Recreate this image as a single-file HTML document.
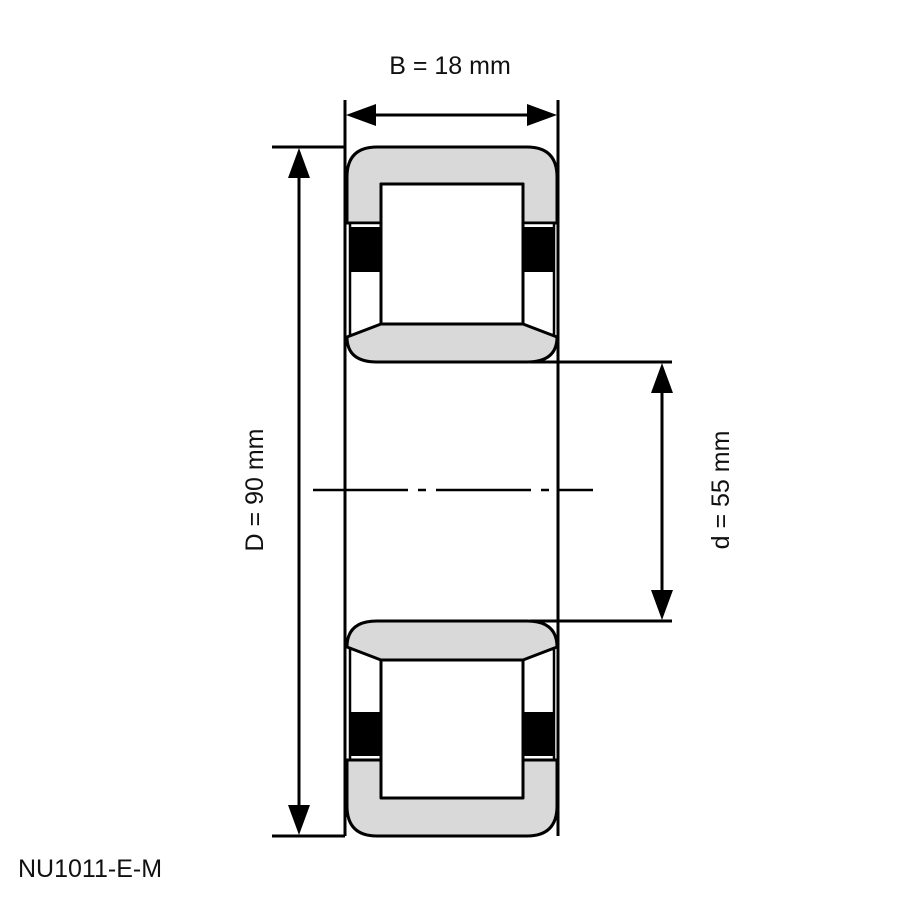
<!DOCTYPE html>
<html><head><meta charset="utf-8"><style>
html,body{margin:0;padding:0;background:#fff;}
svg{display:block;}
text{font-family:"Liberation Sans",sans-serif;fill:#111;}
</style></head><body>
<svg width="900" height="900" viewBox="0 0 900 900" xmlns="http://www.w3.org/2000/svg">
<g stroke="#000" stroke-width="3" fill="none">
  <line x1="345" y1="100" x2="345" y2="836"/>
  <line x1="558" y1="100" x2="558" y2="836"/>
  <line x1="272" y1="147" x2="345" y2="147"/>
  <line x1="272" y1="836" x2="345" y2="836"/>
  <line x1="530" y1="362" x2="672" y2="362"/>
  <line x1="530" y1="621" x2="672" y2="621"/>
  <line x1="360" y1="115" x2="543" y2="115"/>
  <line x1="299" y1="165" x2="299" y2="818"/>
  <line x1="662" y1="380" x2="662" y2="603"/>
</g>
<g fill="#000">
  <polygon points="346,115 376,104 376,126"/>
  <polygon points="557,115 527,104 527,126"/>
  <polygon points="299,148 288,178 310,178"/>
  <polygon points="299,835 288,805 310,805"/>
  <polygon points="662,363 651,393 673,393"/>
  <polygon points="662,620 651,590 673,590"/>
</g>
<line x1="313" y1="490" x2="593" y2="490" stroke="#000" stroke-width="2.5" stroke-dasharray="95,10,8,10"/>

<g stroke="#000" stroke-width="3" stroke-linejoin="round">
  <path d="M347,223 L347,177 Q347,147 377,147 L527,147 Q557,147 557,177 L557,223 L523,223 L523,184 L381,184 L381,223 Z" fill="#d9d9d9"/>
  <rect x="350" y="223" width="31" height="112" fill="#fff" stroke-width="2.5"/>
  <rect x="523" y="223" width="31" height="112" fill="#fff" stroke-width="2.5"/>
  <rect x="351" y="227" width="30" height="45" fill="#000" stroke="none"/>
  <rect x="523" y="227" width="30" height="45" fill="#000" stroke="none"/>
  <rect x="381" y="184" width="142" height="140" fill="#fff"/>
  <path d="M347,337 L381,324 L523,324 L557,337 Q557,362 527,362 L377,362 Q347,362 347,337 Z" fill="#d9d9d9"/>

  <rect x="350" y="649" width="31" height="111" fill="#fff" stroke-width="2.5"/>
  <rect x="523" y="649" width="31" height="111" fill="#fff" stroke-width="2.5"/>
  <rect x="351" y="712" width="30" height="44" fill="#000" stroke="none"/>
  <rect x="523" y="712" width="30" height="44" fill="#000" stroke="none"/>
  <rect x="381" y="660" width="142" height="138" fill="#fff"/>
  <path d="M347,647 L381,660 L523,660 L557,647 Q557,621 527,621 L377,621 Q347,621 347,647 Z" fill="#d9d9d9"/>
  <path d="M347,760 L347,806 Q347,836 377,836 L527,836 Q557,836 557,806 L557,760 L523,760 L523,798 L381,798 L381,760 Z" fill="#d9d9d9"/>
</g>

<text x="450" y="74" font-size="25" text-anchor="middle">B = 18 mm</text>
<text x="0" y="0" font-size="25" text-anchor="middle" transform="translate(263,490) rotate(-90)">D = 90 mm</text>
<text x="0" y="0" font-size="25" text-anchor="middle" transform="translate(729,490) rotate(-90)">d = 55 mm</text>
<text x="18" y="877" font-size="25">NU1011-E-M</text>
</svg>
</body></html>
